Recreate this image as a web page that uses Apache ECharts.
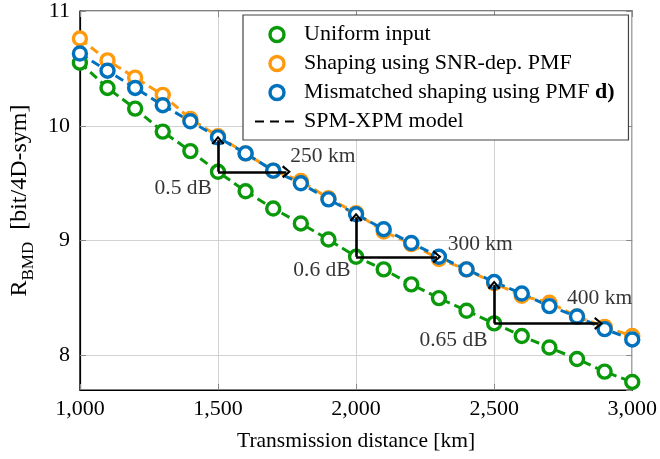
<!DOCTYPE html>
<html>
<head>
<meta charset="utf-8">
<script src="https://cdn.jsdelivr.net/npm/echarts@6/dist/echarts.min.js"></script>
<style>
html,body{margin:0;padding:0;background:#fff;}
#chart{width:660px;height:459px;}
</style>
</head>
<body>
<div id="chart"></div>
<script>
// Transmission distance [km]
const distances = [1000,1100,1200,1300,1400,1500,1600,1700,1800,1900,2000,2100,2200,2300,2400,2500,2600,2700,2800,2900,3000];
// R_BMD [bit/4D-sym]
const uniformInput = [10.55,10.33,10.15,9.95,9.78,9.60,9.43,9.28,9.15,9.01,8.86,8.75,8.62,8.50,8.39,8.28,8.17,8.07,7.97,7.86,7.77];
const snrDepShaping = [10.76,10.57,10.42,10.27,10.06,9.91,9.76,9.61,9.52,9.37,9.24,9.08,8.97,8.84,8.75,8.63,8.52,8.46,8.34,8.25,8.17];
const mismatchedShaping = [10.63,10.48,10.33,10.18,10.04,9.90,9.76,9.61,9.50,9.36,9.23,9.10,8.98,8.86,8.75,8.64,8.54,8.43,8.34,8.23,8.14];

// Annotation arrows: [x, yFrom, yTo, xTo]
const gainArrows = [
  [1500, 9.60, 9.875, 1748],
  [2000, 8.86, 9.205, 2293],
  [2500, 8.28, 8.615, 2878]
];
const gainLabels = ['0.5 dB', '0.6 dB', '0.65 dB'];
const gainLabelPos = [[1480, 9.46], [1982, 8.74], [2478, 8.13]];
const reachLabels = ['250 km', '300 km', '400 km'];
const reachLabelPos = [[1760, 9.73], [2330, 8.97], [2762, 8.50]];

const names = ['Uniform input', 'Shaping using SNR-dep. PMF', 'Mismatched shaping using PMF d)', 'SPM-XPM model'];
const colors = ['#0a990a', '#ff9a0e', '#0072bd'];
const seriesValues = [uniformInput, snrDepShaping, mismatchedShaping];

const FONT = 'Liberation Serif';
const FS = 21.5;
const TFS = 22;
const LFS = 22;

const chart = echarts.init(document.getElementById('chart'), null, {renderer: 'canvas'});

const pairs = arr => distances.map((d, i) => [d, arr[i]]);

const series = [];
// model lines (dashed)
seriesValues.forEach((vals, i) => {
  series.push({
    name: 'model' + i,
    type: 'line',
    data: pairs(vals),
    symbol: 'none',
    z: 2,
    lineStyle: {color: colors[i], width: 3, type: [9, 5]},
    silent: true
  });
});
// markers
seriesValues.forEach((vals, i) => {
  series.push({
    name: names[i],
    type: 'scatter',
    data: pairs(vals),
    symbol: 'circle',
    symbolSize: 13,
    z: 3 + i,
    itemStyle: {color: '#ffffff', borderColor: colors[i], borderWidth: 3.4, opacity: 1}
  });
});
// legend-only dashed black line
series.push({
  name: names[3],
  type: 'line',
  data: [],
  symbol: 'none',
  itemStyle: {color: 'rgba(0,0,0,0)', borderColor: 'rgba(0,0,0,0)', borderWidth: 0},
  lineStyle: {color: '#000', width: 3.6, type: [9, 6]}
});

const chevron = 'path://M0,7 L5,0 L10,7 L8.5,8.2 L5,2.8 L1.5,8.2 Z';
const arrowLines = [];
gainArrows.forEach(a => {
  arrowLines.push([{coord: [a[0], a[1]], symbol: 'none'}, {coord: [a[0], a[2]], symbol: chevron}]);
  arrowLines.push([{coord: [a[0], a[1]], symbol: 'none'}, {coord: [a[3], a[1]], symbol: chevron}]);
});
series.push({
  name: 'arrows',
  type: 'line',
  data: [],
  z: 20,
  markLine: {
    silent: true,
    z: 20,
    symbolSize: [13, 9],
    lineStyle: {color: '#000', width: 2.6, type: 'solid', opacity: 1},
    label: {show: false},
    emphasis: {disabled: true},
    data: arrowLines
  }
});

const textItems = [];
gainLabels.forEach((t, i) => {
  textItems.push({value: [gainLabelPos[i][0], gainLabelPos[i][1]], name: t, label: {position: 'left'}});
});
reachLabels.forEach((t, i) => {
  textItems.push({value: [reachLabelPos[i][0], reachLabelPos[i][1]], name: t, label: {position: 'right'}});
});
series.push({
  name: 'texts',
  type: 'scatter',
  symbolSize: 1,
  itemStyle: {color: 'rgba(0,0,0,0)'},
  z: 21,
  silent: true,
  data: textItems,
  label: {
    show: true,
    distance: 0,
    formatter: p => p.name,
    color: '#000',
    fontFamily: FONT,
    fontSize: FS
  }
});

const tickOnlyAxis = {
  axisLine: {show: false},
  axisTick: {show: true, inside: true, length: 6, lineStyle: {color: '#888'}},
  axisLabel: {show: false},
  splitLine: {show: false}
};

chart.setOption({
  animation: false,
  backgroundColor: '#fff',
  grid: {left: 77, right: 26, top: 10, bottom: 69, show: true, borderColor: '#000', borderWidth: 1.2, backgroundColor: 'transparent'},
  xAxis: [{
    type: 'value',
    min: 1000, max: 3000, interval: 500,
    name: 'Transmission distance [km]',
    nameLocation: 'middle',
    nameGap: 40,
    nameTextStyle: {fontFamily: FONT, fontSize: FS, color: '#000'},
    axisLine: {show: true, lineStyle: {color: '#000', width: 1.2}},
    axisTick: {show: true, inside: true, length: 6, lineStyle: {color: '#888'}},
    axisLabel: {fontFamily: FONT, fontSize: TFS, color: '#000', margin: 8,
      formatter: v => v.toLocaleString('en-US')},
    splitLine: {show: true, lineStyle: {color: '#d2d2d2', width: 1}}
  }, Object.assign({type: 'value', position: 'top', min: 1000, max: 3000, interval: 500}, tickOnlyAxis)],
  yAxis: [{
    type: 'value',
    min: 7.7, max: 11, splitNumber: 3,
    name: '{r|R}{s|BMD}{r|  [bit/4D-sym]}',
    nameLocation: 'middle',
    nameGap: 42,
    nameRotate: 90,
    nameTextStyle: {
      fontFamily: FONT, fontSize: 24, color: '#000',
      rich: {
        r: {fontFamily: FONT, fontSize: 24, color: '#000', lineHeight: 28, verticalAlign: 'bottom'},
        s: {fontFamily: FONT, fontSize: 17, color: '#000', lineHeight: 28, verticalAlign: 'bottom', padding: [0, 0, -5, 0]}
      }
    },
    axisLine: {show: true, lineStyle: {color: '#000', width: 1.2}},
    axisTick: {show: true, inside: true, length: 6, lineStyle: {color: '#888'}},
    axisLabel: {fontFamily: FONT, fontSize: TFS, color: '#000', margin: 10, showMinLabel: false},
    splitLine: {show: true, lineStyle: {color: '#d2d2d2', width: 1}}
  }, Object.assign({type: 'value', position: 'right', min: 7.7, max: 11, splitNumber: 3}, tickOnlyAxis)],
  legend: {
    data: [names[0], names[1], names[2],
      {name: names[3], itemStyle: {color: 'rgba(0,0,0,0)', borderColor: 'rgba(0,0,0,0)', borderWidth: 0}}],
    orient: 'vertical',
    left: 243,
    top: 15,
    padding: [7, 14, 6, 11],
    itemGap: 4,
    itemWidth: 44,
    itemHeight: 14,
    itemStyle: {borderWidth: 3.4},
    backgroundColor: '#fff',
    borderColor: '#444',
    borderWidth: 1.2,
    borderRadius: 0,
    selectedMode: false,
    textStyle: {
      fontFamily: FONT, fontSize: LFS, color: '#000', lineHeight: 25,
      rich: {
        n: {fontFamily: FONT, fontSize: LFS, color: '#000'},
        b: {fontFamily: FONT, fontSize: LFS, color: '#000', fontWeight: 'bold'}
      }
    },
    formatter: name => name === names[2]
      ? '{n|Mismatched shaping using PMF }{b|d)}'
      : '{n|' + name + '}'
  },
  series: series
});
</script>
</body>
</html>
